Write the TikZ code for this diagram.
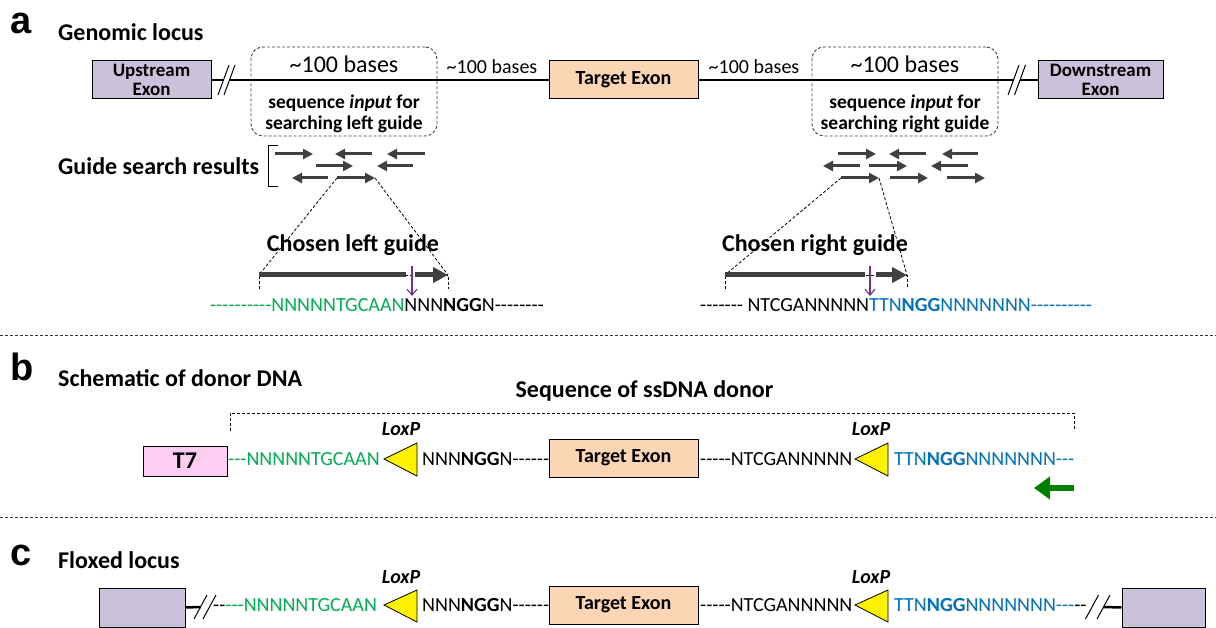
\documentclass[tikz,border=0pt]{standalone}
\usepackage{fontspec}
\newfontfamily\calf{Carlito}
\newfontfamily\arlf{Liberation Sans}
\usetikzlibrary{arrows.meta,calc}
\definecolor{lav}{HTML}{CCC1DA}
\definecolor{peach}{HTML}{FCD5B5}
\definecolor{tpink}{HTML}{FFCCF2}
\definecolor{sgreen}{HTML}{00B050}
\definecolor{sblue}{HTML}{0070C0}
\definecolor{purp}{HTML}{7030A0}
\definecolor{dgreen}{HTML}{008000}
\definecolor{ggray}{HTML}{404040}
\tikzset{
  panlbl/.style={font=\arlf\bfseries\fontsize{38}{40}\selectfont, anchor=west, inner sep=0pt},
  heading/.style={font=\calf\bfseries\fontsize{24}{28}\selectfont, inner sep=0pt},
  seq/.style={font=\calf\fontsize{20}{24}\selectfont, anchor=west, inner sep=0pt},
  ann/.style={font=\calf\fontsize{20}{24}\selectfont, inner sep=0pt},
  bigann/.style={font=\calf\fontsize{24}{28}\selectfont, inner sep=0pt},
  boldann/.style={font=\calf\bfseries\fontsize{19.5}{21}\selectfont, inner sep=0pt, anchor=base},
  exonbox/.style={draw, line width=1pt, font=\calf\bfseries\fontsize{19}{18.5}\selectfont, align=center, inner sep=0pt},
  upbox/.style={exonbox, fill=lav},
  tgtbox/.style={exonbox, fill=peach},
  t7box/.style={exonbox, fill=tpink},
  loxlbl/.style={font=\calf\bfseries\itshape\fontsize{20}{22}\selectfont, inner sep=0pt},
  loxtri/.style={draw, fill=yellow, line width=0.8pt, line join=miter},
  garrow/.style={draw=ggray, line width=3pt, -{Triangle[length=10pt,width=10pt]}},
  bigline/.style={draw=ggray, line width=5pt},
  bigarrow/.style={draw=ggray, line width=5pt, -{Triangle[length=15pt,width=15pt]}},
  cutarrow/.style={draw=purp, line width=1.1pt, -{Straight Barb[length=6pt,width=10pt]}},
  sepline/.style={dash pattern=on 3pt off 2pt, line width=0.8pt, draw=black!80},
  dbox/.style={draw=black!75, dash pattern=on 3pt off 2pt, line width=0.9pt, rounded corners=12pt, inner sep=0pt},
  zline/.style={dash pattern=on 3pt off 2pt, line width=0.8pt},
  dna/.style={line width=2.5pt},
  brk/.style={line width=1pt},
}
\begin{document}
\begin{tikzpicture}[x=1pt,y=-1pt]
\useasboundingbox[fill=white] (0,0) rectangle (1216,628);

% ---------------- panel a ----------------
\node[panlbl] (la) at (10,23) {a};
\node[heading, anchor=west] (ha) at (58,32) {Genomic locus};

\node[upbox, minimum width=119pt, minimum height=38pt] (up) at (151.5,80) {Upstream\\Exon};
\node[tgtbox, minimum width=149pt, minimum height=38pt, font=\calf\bfseries\fontsize{20}{22}\selectfont] (tgtA) at (623.5,80) {Target Exon};
\node[upbox, minimum width=125pt, minimum height=38pt] (down) at (1100.5,80) {Downstream\\Exon};

\coordinate (bL1) at (223.5,80);
\coordinate (bL2) at (229.5,80);
\coordinate (bR1) at (1013.5,80);
\coordinate (bR2) at (1020,80);
\draw[dna] (up.east) -- (bL1);
\draw[dna] (bL2) -- (tgtA.west);
\draw[dna] (tgtA.east) -- (bR1);
\draw[dna] (bR2) -- (down.west);
\foreach \c in {bL1,bL2,bR1,bR2}{
  \draw[brk] ($(\c)+(-5.5,15)$) -- ($(\c)+(5.5,-15)$);
}

\node[dbox, minimum width=186pt, minimum height=89pt] (inL) at (344,91.5) {};
\node[dbox, minimum width=186pt, minimum height=89pt] (inR) at (905,91.5) {};
\node[bigann] (bL) at (344,64) {\textasciitilde100 bases};
\node[bigann] (bR) at (905,64) {\textasciitilde100 bases};
\node[boldann] (sL1) at (344,109) {sequence \textit{input} for};
\node[boldann] (sL2) at (344,130) {searching left guide};
\node[boldann] (sR1) at (905,109) {sequence \textit{input} for};
\node[boldann] (sR2) at (905,130) {searching right guide};
\node[ann] (mL) at (492,67) {\textasciitilde100 bases};
\node[ann] (mR) at (754,67) {\textasciitilde100 bases};

% guide search results
\node[heading, anchor=west] (gsr) at (58,166.5) {Guide search results};
\draw[line width=1pt] (278,146) -- (268,146) -- (268,187) -- (278,187);
% left group
\draw[garrow] (275,154) -- (313,154);
\draw[garrow] (372,154) -- (335,154);
\draw[garrow] (425,154) -- (387,154);
\draw[garrow] (316,166) -- (353,166);
\draw[garrow] (413,166) -- (377,166);
\draw[garrow] (328,178) -- (292,178);
\coordinate (gLs) at (337,178);
\coordinate (gLe) at (375,178);
\draw[garrow] (gLs) -- (gLe);
% right group
\draw[garrow] (838,154) -- (876,154);
\draw[garrow] (926,154) -- (889,154);
\draw[garrow] (978,154) -- (942,154);
\draw[garrow] (860,166) -- (823,166);
\draw[garrow] (869,166) -- (907,166);
\draw[garrow] (968,166) -- (931,166);
\coordinate (gRs) at (841,178);
\coordinate (gRe) at (879,178);
\draw[garrow] (gRs) -- (gRe);
\draw[garrow] (890,178) -- (928,178);
\draw[garrow] (947,178) -- (985,178);

% chosen guides
\node[heading, anchor=base] (chL) at (353,252) {Chosen left guide};
\node[heading, anchor=base] (chR) at (815,252) {Chosen right guide};

\coordinate (clA) at (259,275);
\coordinate (clB) at (448,275);
\coordinate (clC) at (406,275);
\coordinate (clD) at (415,275);
\draw[zline] (gLs) -- (clA);
\draw[zline] (gLe) -- (clB);
\draw[zline] ($(clA)+(0,14)$) -- (clA) -- (clB) -- ($(clB)+(0,14)$);
\draw[bigline] (clA) -- (clC);
\draw[bigarrow] (clD) -- (clB);
\coordinate (cutLt) at (412,266);
\coordinate (cutLb) at (412,296);
\draw[cutarrow] (cutLt) -- (cutLb);

\coordinate (crA) at (725,275);
\coordinate (crB) at (907,275);
\coordinate (crC) at (865,275);
\coordinate (crD) at (876,275);
\draw[zline] (gRs) -- (crA);
\draw[zline] (gRe) -- (crB);
\draw[zline] ($(crA)+(0,14)$) -- (crA) -- (crB) -- ($(crB)+(0,14)$);
\draw[bigline] (crA) -- (crC);
\draw[bigarrow] (crD) -- (crB);
\coordinate (cutRt) at (870,266);
\coordinate (cutRb) at (870,296);
\draw[cutarrow] (cutRt) -- (cutRb);

\node[seq] (sqAL) at (210,305) {\textcolor{sgreen}{----------NNNNNTGCAAN}NNN\textbf{NGG}N--------};
\node[seq] (sqAR) at (700,305) {------- NTCGANNNNN\textcolor{sblue}{TTN\textbf{NGG}NNNNNNN----------}};

\coordinate (sep1a) at (0,335);
\coordinate (sep1b) at (1216,335);
\draw[sepline] (sep1a) -- (sep1b);

% ---------------- panel b ----------------
\node[panlbl] (lb) at (10,366.5) {b};
\node[heading, anchor=west] (hb) at (58,378) {Schematic of donor DNA};
\node[heading, anchor=base] (hss) at (644.5,398) {Sequence of ssDNA donor};
\coordinate (brA) at (230,413);
\coordinate (brB) at (1074,413);
\draw[zline] ($(brA)+(0,18)$) -- (brA) -- (brB) -- ($(brB)+(0,18)$);

\node[t7box, minimum width=84pt, minimum height=30pt, font=\calf\bfseries\fontsize{24}{26}\selectfont] (t7) at (185,461) {T7};
\node[seq] (sbL) at (228,459) {\textcolor{sgreen}{---NNNNNTGCAAN}};
\draw[loxtri] (384,459) -- (417,443) -- (417,476) -- cycle;
\node[loxlbl] (lxb1) at (401,429) {LoxP};
\node[seq] (sbM) at (422,459) {NNN\textbf{NGG}N------};
\node[tgtbox, minimum width=149pt, minimum height=38pt, font=\calf\bfseries\fontsize{20}{22}\selectfont] (tgtB) at (623.5,458) {Target Exon};
\node[seq] (sbN) at (700,459) {-----NTCGANNNNN};
\draw[loxtri] (855,459) -- (888,443) -- (888,476) -- cycle;
\node[loxlbl] (lxb2) at (871,429) {LoxP};
\node[seq] (sbR) at (894,459) {\textcolor{sblue}{TTN\textbf{NGG}NNNNNNN---}};
\coordinate (gaT) at (1074,488);
\coordinate (gaH) at (1034,488);
\draw[draw=dgreen, line width=6pt, -{Triangle[length=16pt,width=22pt]}] (gaT) -- (gaH);

\coordinate (sep2a) at (0,517);
\coordinate (sep2b) at (1216,517);
\draw[sepline] (sep2a) -- (sep2b);

% ---------------- panel c ----------------
\node[panlbl] (lc) at (10,555) {c};
\node[heading, anchor=west] (hc) at (58,560) {Floxed locus};
\node[upbox, minimum width=86pt, minimum height=39pt] (upC) at (142,607.5) {};
\node[upbox, minimum width=83pt, minimum height=39pt] (downC) at (1163.5,607.5) {};
\coordinate (cL1) at (200.5,607);
\coordinate (cL2) at (209.5,607);
\coordinate (cR1) at (1092,607);
\coordinate (cR2) at (1103.5,607);
\draw[dna] (upC.east) -- (cL1);
\draw[dna] (cR2) -- (downC.west);
\foreach \c in {cL1,cL2,cR1,cR2}{
  \draw[brk] ($(\c)+(-6.5,12)$) -- ($(\c)+(6.5,-12)$);
}
\node[seq] (scL) at (213,605) {--\textcolor{sgreen}{---NNNNNTGCAAN}};
\draw[loxtri] (384,605) -- (417,590) -- (417,622) -- cycle;
\node[loxlbl] (lxc1) at (401,577) {LoxP};
\node[seq] (scM) at (422,605) {NNN\textbf{NGG}N------};
\node[tgtbox, minimum width=149pt, minimum height=38pt, font=\calf\bfseries\fontsize{20}{22}\selectfont] (tgtC) at (623.5,605) {Target Exon};
\node[seq] (scN) at (700,605) {-----NTCGANNNNN};
\draw[loxtri] (855,605) -- (888,590) -- (888,622) -- cycle;
\node[loxlbl] (lxc2) at (871,577) {LoxP};
\node[seq] (scR) at (894,605) {\textcolor{sblue}{TTN\textbf{NGG}NNNNNNN---}--};
\end{tikzpicture}
\end{document}
